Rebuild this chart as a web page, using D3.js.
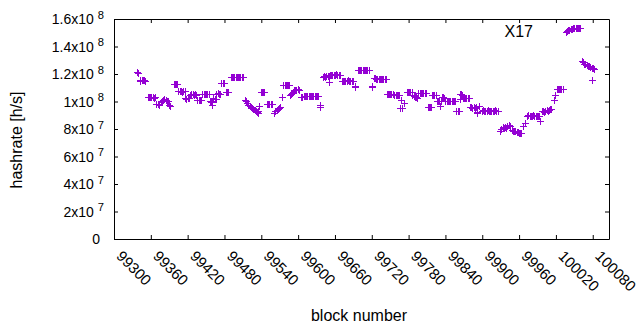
<!DOCTYPE html>
<html>
<head>
<meta charset="utf-8">
<script src="https://cdn.jsdelivr.net/npm/d3@7"></script>
<style>
  body { margin: 0; background: #fff; }
  svg { display: block; background: #fff; }
  text { font-family: "Liberation Sans", Arial, sans-serif; fill: #000; }
</style>
</head>
<body>
<svg id="chart" width="640" height="330"></svg>
<script>
// Data: [block number, hashrate in Mh/s]
var hashratePoints = [
  [99338,121.5],[99339,120.4],
  [99342,114.9],[99343,115.5],[99345,116],[99347,115.3],[99349,115.8],[99351,115.2],
  [99355,103.5],[99357,103],[99359,103.6],[99361,103.1],[99363,103.4],[99365,102.9],[99366,103.3],
  [99369,97.9],[99371,98.3],[99373,97.5],
  [99376,100],[99378,100.4],[99380,101],[99382,101.6],[99384,101.2],[99386,100.7],[99388,100.5],
  [99390,97.4],[99392,96.8],
  [99397,112.6],[99399,113],[99401,112.8],[99402,112.5],
  [99405,107.3],[99407,107.8],[99409,107.5],[99411,107.2],[99413,107.6],[99415,107.4],
  [99416,102.5],[99418,102],[99420,102.4],[99422,102.2],
  [99424,105],[99426,105.5],[99428,105.2],[99430,104.9],[99432,105.4],[99434,105],
  [99436,101.3],[99438,100.8],[99440,101.1],[99442,101],
  [99444,105.3],[99446,105.8],[99448,105.4],[99450,105.6],[99452,105.2],[99454,105.5],
  [99456,100.2],[99458,99.8],[99459,97.7],[99460,100.1],
  [99462,102.2],[99464,101.8],[99466,102],
  [99467,105.5],[99469,106],[99471,105.7],[99473,105.8],
  [99475,113.2],[99477,113.6],[99479,113.3],
  [99482,107],[99484,106.7],[99486,107.1],
  [99490,117.6],[99492,118],[99494,117.7],[99496,117.9],[99498,118.1],[99500,117.6],
  [99502,117.8],[99504,118],[99506,117.7],[99508,117.9],[99510,117.8],
  [99513,101],[99515,100.2],[99517,98.8],[99519,97.8],[99521,97],[99523,96.3],[99525,95.4],
  [99527,94.6],[99529,93.9],[99531,93],[99533,92.2],[99534,91.5],[99535,92.8],[99536,96.4],
  [99539,106.9],[99541,107.2],[99543,106.7],[99544,107],
  [99549,98.2],[99551,98.5],[99553,98],[99555,98.3],[99557,98.1],
  [99560,92],[99563,93.3],[99565,94],[99567,94.6],[99569,95.6],[99571,95.8],[99573,103.3],
  [99576,111.8],[99578,112.2],[99580,112],[99582,112.3],[99584,111.9],[99585,112.1],
  [99586,105],[99588,105.7],[99590,106.4],[99592,107],
  [99593,108.2],[99595,108.7],[99597,108.5],[99599,108.8],[99601,108.4],
  [99604,103.2],[99606,103.5],[99607,103],
  [99609,104.3],[99611,103.9],[99613,104.2],[99615,104],[99617,104.3],[99619,103.8],[99621,104.1],
  [99623,104],[99625,104.2],[99627,103.9],[99629,104.1],[99631,104],[99632,104.2],
  [99635,97.6],[99636,96],
  [99640,118],[99642,118.3],[99644,117.8],[99646,118.2],[99648,118.5],[99650,118.9],[99651,114.2],
  [99652,119.2],[99654,119.5],[99656,119.3],[99658,119.6],[99660,119.4],[99662,119.7],[99664,119.5],
  [99666,119.3],[99668,119.6],
  [99671,114.8],[99673,115.2],[99675,114.6],[99677,115],[99679,114.7],[99681,115.3],[99683,115.1],
  [99685,114.9],[99687,115.2],[99689,114.8],
  [99692,111.5],[99693,110.2],
  [99697,122.6],[99699,123],[99701,122.8],[99703,123.1],[99705,122.7],[99707,123],[99709,122.9],
  [99711,122.7],[99713,123],[99715,122.8],
  [99720,111.5],[99721,110.5],
  [99723,117.2],[99725,116.8],[99727,116.5],[99729,116.3],[99731,116.6],[99733,116.2],[99735,116.5],
  [99737,116.3],[99739,116.4],[99741,116.1],[99743,116.4],
  [99744,105.3],[99746,105.6],[99748,105.2],[99750,105.5],[99752,105.3],[99754,105.4],
  [99757,104.7],[99759,104.4],[99761,104.8],[99763,104.5],[99765,104.6],
  [99766,95.3],[99768,100.8],[99770,95.3],[99773,98.9],
  [99777,106.8],[99779,107.1],[99781,106.7],[99783,107],[99785,106.9],
  [99786,104.5],[99788,104],[99790,103.5],[99792,103.2],[99794,102.9],
  [99796,106],[99798,106.3],[99800,106.1],[99802,106.4],[99804,106],[99806,106.2],[99808,106.3],
  [99811,96.2],[99813,95.8],[99815,96.1],[99816,95.9],
  [99818,104.7],[99820,104.5],[99822,104.9],[99824,104.6],
  [99826,100.3],[99828,100.7],[99830,100.4],[99831,96.4],[99832,100.6],
  [99834,103],[99836,103.3],[99837,102.8],
  [99840,100.4],[99842,100.7],[99844,100.2],[99846,100.5],[99848,100.3],[99850,100.6],[99852,100.2],
  [99854,100.5],[99855,100.4],
  [99858,93.1],[99860,93.4],[99862,92.9],
  [99863,105.2],[99864,101.8],[99865,105.5],[99867,105],
  [99868,102.5],[99870,102.8],[99872,102.3],[99874,102.6],[99876,102.4],[99878,102.5],
  [99880,95.7],[99882,96],[99884,95.5],[99886,95.8],[99888,95.6],[99889,95.7],
  [99891,92.5],[99892,91.3],[99895,96.4],
  [99899,93.1],[99901,93.5],[99903,93.2],[99905,93.4],[99907,93.1],[99909,93.5],[99911,93.3],
  [99913,93.2],[99915,93.4],[99917,93.1],[99919,93.3],[99921,93.5],[99923,93.2],[99925,93.3],
  [99929,78.3],[99931,80],[99933,81.2],[99935,80.5],[99937,81.3],[99939,81],[99941,82.2],
  [99943,82.6],[99945,82],
  [99948,79.2],[99950,78.8],[99952,78.9],[99954,78.4],[99956,78],[99958,77.6],[99960,77.2],
  [99962,77.3],[99963,77.1],
  [99967,81.9],[99969,84.4],
  [99973,89.5],[99975,89.9],[99977,89.6],[99979,89.8],[99981,89.5],[99983,89.9],[99985,89.7],
  [99987,89.6],[99989,89.8],[99991,89.5],[99992,89.7],
  [99994,86],
  [99997,92.8],[99999,93],[100001,92.7],[100003,93.2],[100005,93.5],[100007,93.3],[100009,93.8],
  [100011,94.2],[100012,94.5],
  [100017,101.3],[100019,104.9],
  [100021,108.8],[100023,109.2],[100025,109],[100027,109.3],[100029,108.9],[100031,109.2],
  [100036,150.5],[100038,151.2],[100040,151.8],[100042,152.2],[100044,152.6],[100046,153],
  [100048,153.3],[100050,153.5],[100052,153.4],[100054,153.6],[100056,153.3],[100058,153.5],[100059,153.4],
  [100062,129.2],[100064,128.5],[100066,127.6],[100068,127.2],[100070,126.5],[100072,126],
  [100074,125.6],[100076,125],[100078,124.6],[100080,124.2],[100082,123.6],
  [100078,115.9]
];

var xTickValues = [99300, 99360, 99420, 99480, 99540, 99600, 99660, 99720, 99780, 99840, 99900, 99960, 100020, 100080];
var yTickValues = [0, 2e7, 4e7, 6e7, 8e7, 1e8, 1.2e8, 1.4e8, 1.6e8];
var yTickMantissa = ["0", "2", "4", "6", "8", "1", "1.2", "1.4", "1.6"];
var yTickExponent = ["", "7", "7", "7", "7", "8", "8", "8", "8"];
var seriesTitle = "X17";

var svg = d3.select("#chart");
var plotColor = "#9400d3";
var xTickFont = 15;
var yTickFont = 14;
var labelFont = 16;

// scales (plot frame 114..609 x 19..239)
var x = d3.scaleLinear().domain([99300, 100106.5]).range([114, 609]);
var y = d3.scaleLinear().domain([0, 1.6e8]).range([239, 19]);

// axes on all four sides, ticks pointing inward
var gBottom = svg.append("g").attr("transform", "translate(0,239)")
  .call(d3.axisBottom(x).tickValues(xTickValues).tickSizeInner(-4).tickSizeOuter(0).tickFormat(d3.format("d")));
var gTop = svg.append("g").attr("transform", "translate(0,19)")
  .call(d3.axisTop(x).tickValues(xTickValues).tickSizeInner(-4).tickSizeOuter(0).tickFormat(""));
var gLeft = svg.append("g").attr("transform", "translate(114,0)")
  .call(d3.axisLeft(y).tickValues(yTickValues).tickSizeInner(-4).tickSizeOuter(0));
var gRight = svg.append("g").attr("transform", "translate(609,0)")
  .call(d3.axisRight(y).tickValues(yTickValues).tickSizeInner(-4).tickSizeOuter(0).tickFormat(""));

[gBottom, gTop, gLeft, gRight].forEach(function(g) {
  g.attr("font-family", null).attr("color", "#000");
  g.selectAll("line, path").attr("stroke", "#000").attr("stroke-width", 1);
});
gBottom.attr("font-size", xTickFont);
gLeft.attr("font-size", yTickFont);

// rotated x tick labels
gBottom.selectAll(".tick text")
  .attr("y", 0).attr("dy", null).attr("x", 0)
  .attr("text-anchor", "start")
  .attr("transform", "translate(1,18) rotate(45)");

// y tick labels like 1.6x10^8
gLeft.selectAll(".tick text").each(function(d, i) {
  var t = d3.select(this);
  var exp = yTickExponent[i];
  t.text(null).attr("x", exp ? -10 : -14).attr("dy", "0.33em");
  t.append("tspan").text(yTickMantissa[i] + (exp ? "x10" : ""));
  if (exp) {
    t.append("tspan").attr("dx", 4).attr("dy", "-0.5em").attr("font-size", "0.8em").text(exp);
  }
});

// points drawn as '+' marks
svg.append("g")
  .selectAll("path")
  .data(hashratePoints)
  .join("path")
  .attr("d", function(d) {
    var px = Math.round(x(d[0])) + 0.5;
    var py = Math.round(y(d[1] * 1e6)) + 0.5;
    return "M" + (px - 3.5) + "," + py + "H" + (px + 3.5) + "M" + px + "," + (py - 3.5) + "V" + (py + 3.5);
  })
  .attr("fill", "none")
  .attr("stroke", plotColor)
  .attr("stroke-width", 1);

// labels
svg.append("text").attr("x", 533).attr("y", 37).attr("text-anchor", "end")
  .attr("font-size", labelFont).text(seriesTitle);
svg.append("text").attr("x", 359).attr("y", 321).attr("text-anchor", "middle")
  .attr("font-size", labelFont).text("block number");
svg.append("text").attr("transform", "translate(22,140) rotate(-90)").attr("text-anchor", "middle")
  .attr("font-size", labelFont).text("hashrate [h/s]");
</script>
</body>
</html>
